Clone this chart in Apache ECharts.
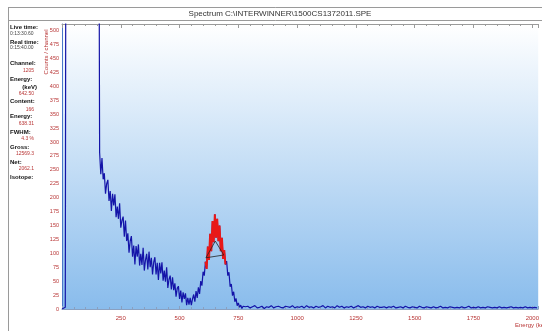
<!DOCTYPE html>
<html><head><meta charset="utf-8">
<script src="https://cdn.jsdelivr.net/npm/echarts@6/dist/echarts.min.js"></script>
<style>html,body{margin:0;padding:0;background:#fff}#c{width:542px;height:331px}</style>
</head><body><div id="c"></div>
<script>
// ---- data ----
var titleText = 'Spectrum C:\\INTERWINNER\\1500CS1372011.SPE';
var xTicks = [250, 500, 750, 1000, 1250, 1500, 1750, 2000];
var yTicks = [0,25,50,75,100,125,150,175,200,225,250,275,300,325,350,375,400,425,450,475,500];

// saturated low-energy part (counts above the visible range)
var lowEnergy = [0, 8, 14, 17, 156];
var lowCounts = [0, 1, 3, 900, 900];

// Compton continuum 160..610 keV, 5 keV per point
var contStart = 160, contStep = 5;
var contCounts = [281,242,271,233,244,207,225,232,194,212,176,207,186,206,165,184,162,190,146,159,
  166,130,159,122,136,101,122,131,94,114,80,113,94,116,78,99,79,110,69,88,
  99,71,103,75,92,62,84,93,62,83,52,83,64,84,51,69,49,75,38,53,
  60,35,57,34,46,22,37,41,18,33,12,30,18,28,7,20,8,20,7,18,
  26,13,32,20,39,27,50,42,67,60,85];

// photopeak region (red) 610..695 keV
var peakStart = 610, peakStep = 5;
var peakCounts = [85,72,112,88,135,104,158,120,170,128,162,122,150,104,128,90,106,80];

// tail 695..780 keV
var tailStart = 695, tailStep = 5;
var tailCounts = [80,86,60,66,40,45,24,31,13,19,6,11,3,7,1,5,2,4];

// flat part 780..2020 keV, 10 keV per point
var flatStart = 780, flatStep = 10;
var flatCounts = [3,5,2,4,6,2,3,5,1,4, 3,6,2,4,5,3,2,5,4,3, 6,2,4,3,5,2,6,3,4,2,
  5,3,4,6,2,5,3,4,2,6, 3,5,2,4,3,5,2,4,6,3, 4,2,5,3,4,2,5,3,3,4,
  2,4,3,5,2,3,4,2,5,3, 2,4,3,2,5,3,2,4,3,2, 4,2,3,5,2,3,2,4,3,2,
  3,2,4,2,3,5,2,3,2,4, 2,3,2,4,3,2,3,2,4,2, 3,2,3,4,2,3,2,3,2,4, 2,3,2,3,2];

// peak marker (baseline + apex)
var markerEnergy = [612, 652, 688, 612];
var markerCounts = [92, 122, 97, 92];

// info panel
var infoLabels = [
  ['Live time:', 27, 'b'], ['0:13:30.60', 34, 'v0'], ['Real time:', 42, 'b'], ['0:15:40.00', 48, 'v0'],
  ['Channel:', 63, 'b'], ['1205', 71, 'v'], ['Energy:', 79, 'b'], ['(keV)', 87, 'br'], ['642.50', 94, 'v'],
  ['Content:', 101, 'b'], ['166', 110, 'v'], ['Energy:', 116, 'b'], ['638.31', 124, 'v'],
  ['FWHM:', 132, 'b'], ['4.3 %', 139, 'v'], ['Gross:', 147, 'b'], ['12569.3', 154, 'v'],
  ['Net:', 162, 'b'], ['2062.1', 169, 'v'], ['Isotope:', 177, 'b']
];

// ---- build ----
function seg(start, step, arr){ return arr.map(function(v,i){ return [start + i*step, v]; }); }
var blue = lowEnergy.map(function(e,i){ return [e, lowCounts[i]]; })
  .concat(seg(contStart, contStep, contCounts))
  .concat(seg(peakStart, peakStep, peakCounts))
  .concat(seg(tailStart, tailStep, tailCounts).slice(1))
  .concat(seg(flatStart, flatStep, flatCounts).slice(1));
var red = seg(peakStart, peakStep, peakCounts);
var marker = markerEnergy.map(function(e,i){ return [e, markerCounts[i]]; });

var RED = '#b83434';
var graphics = [
  {type:'rect', shape:{x:8.5, y:7.5, width:560, height:13}, style:{fill:'#fff', stroke:'#9a9a9a', lineWidth:1}, z:10},
  {type:'text', x:280, y:14, style:{text:titleText, font:'8px "Liberation Sans", Arial, sans-serif', fill:'#333', align:'center', verticalAlign:'middle'}, z:11},
  {type:'line', shape:{x1:8.5, y1:7, x2:8.5, y2:331}, style:{stroke:'#9a9a9a', lineWidth:1}, z:10},
  {type:'text', x:46, y:52, rotation:Math.PI/2, style:{text:'Counts / channel', font:'6px "Liberation Sans", Arial, sans-serif', fill:RED, align:'center', verticalAlign:'middle'}, z:11},
  {type:'text', x:515, y:325, style:{text:'Energy (keV)', font:'6px "Liberation Sans", Arial, sans-serif', fill:RED, align:'left', verticalAlign:'middle'}, z:11}
];
infoLabels.forEach(function(l){
  var t = l[0], y = l[1], k = l[2];
  if (k === 'b') graphics.push({type:'text', x:10, y:y, style:{text:t, font:'bold 6px "Liberation Sans", Arial, sans-serif', fill:'#111', align:'left', verticalAlign:'middle'}, z:11});
  else if (k === 'br') graphics.push({type:'text', x:37, y:y, style:{text:t, font:'bold 6px "Liberation Sans", Arial, sans-serif', fill:'#111', align:'right', verticalAlign:'middle'}, z:11});
  else if (k === 'v0') graphics.push({type:'text', x:10, y:y, style:{text:t, font:'5px "Liberation Sans", Arial, sans-serif', fill:'#444', align:'left', verticalAlign:'middle'}, z:11});
  else graphics.push({type:'text', x:34, y:y, style:{text:t, font:'5px "Liberation Sans", Arial, sans-serif', fill:RED, align:'right', verticalAlign:'middle'}, z:11});
});

var chart = echarts.init(document.getElementById('c'), null, {renderer:'canvas'});
chart.setOption({
  animation:false,
  backgroundColor:'#fff',
  grid:{left:62, top:24, right:0, bottom:22, show:true, borderWidth:0,
    backgroundColor:{type:'linear', x:0, y:0, x2:0, y2:1, colorStops:[{offset:0,color:'#ffffff'},{offset:1,color:'#89bcec'}]}},
  xAxis:[
    {type:'value', min:0, max:2025, interval:250, position:'bottom',
      axisLabel:{color:RED, fontSize:6, margin:6, showMinLabel:false, showMaxLabel:false,
        formatter:function(v){ return xTicks.indexOf(v) >= 0 ? String(v) : ''; }},
      axisLine:{show:true, lineStyle:{color:'#8aa0c0', width:1}},
      axisTick:{show:true, inside:true, length:3, lineStyle:{color:'#8aa0c0'}},
      minorTick:{show:true, splitNumber:5, length:2, lineStyle:{color:'#8aa0c0'}},
      splitLine:{show:false}},
    {type:'value', min:0, max:2025, interval:250, position:'top',
      axisLabel:{show:false},
      axisLine:{show:true, lineStyle:{color:'#9a9a9a', width:1}},
      axisTick:{show:true, inside:true, length:4, lineStyle:{color:'#9a9a9a'}},
      minorTick:{show:true, splitNumber:5, length:2, lineStyle:{color:'#9a9a9a'}},
      splitLine:{show:false}}
  ],
  yAxis:{type:'value', min:0, max:512, interval:25,
    axisLabel:{color:RED, fontSize:5.5, margin:3, showMaxLabel:false,
      formatter:function(v){ return yTicks.indexOf(v) >= 0 ? String(v) : ''; }},
    axisLine:{show:true, lineStyle:{color:'#4a78c8', width:1}},
    axisTick:{show:false}, splitLine:{show:false}},
  series:[
    {type:'line', data:blue, showSymbol:false, symbol:'none', clip:true, lineStyle:{color:'#1414a8', width:1.2}, z:2},
    {type:'line', data:red, showSymbol:false, symbol:'none', clip:true, lineStyle:{color:'#e81818', width:2}, z:3},
    {type:'line', data:marker, showSymbol:false, symbol:'none', clip:true, lineStyle:{color:'#222', width:0.8}, z:4}
  ],
  graphic:graphics
});
</script></body></html>
